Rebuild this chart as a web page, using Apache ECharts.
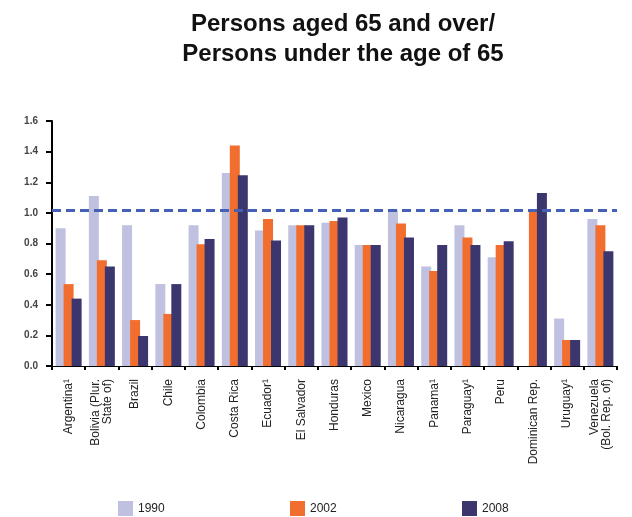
<!DOCTYPE html>
<html>
<head>
<meta charset="utf-8">
<script src="https://cdn.jsdelivr.net/npm/echarts@6/dist/echarts.min.js"></script>
<style>html,body{margin:0;padding:0;background:#fff}#c{width:632px;height:517px}</style>
</head>
<body>
<div id="c"></div>
<script>
var categories = ["Argentina\u00b9", "Bolivia (Plur.\nState of)", "Brazil", "Chile", "Colombia", "Costa Rica", "Ecuador\u00b9", "El Salvador", "Honduras", "Mexico", "Nicaragua", "Panama\u00b9", "Paraguay\u00b9", "Peru", "Dominican Rep.", "Uruguay\u00b9", "Venezuela\n(Bol. Rep. of)"];
var s1990 = [0.90, 1.11, 0.92, 0.535, 0.92, 1.26, 0.885, 0.92, 0.935, 0.79, 1.02, 0.65, 0.92, 0.71, null, 0.31, 0.96];
var s2002 = [0.535, 0.69, 0.30, 0.34, 0.795, 1.44, 0.96, 0.92, 0.947, 0.79, 0.93, 0.62, 0.84, 0.79, 1.02, 0.17, 0.92];
var s2008 = [0.44, 0.65, 0.196, 0.535, 0.83, 1.245, 0.82, 0.92, 0.97, 0.79, 0.84, 0.79, 0.79, 0.815, 1.13, 0.17, 0.75];
var refLine = 1.02;
var seriesNames = ["1990", "2002", "2008"];
var colors = ["#c0c0e0", "#f26e2e", "#3b376e"];

var chart = echarts.init(document.getElementById('c'), null, {renderer: 'canvas'});
var font = "'Liberation Sans', Arial, sans-serif";
function bar(name, data, color, extra) {
  var s = {
    name: name, type: 'bar', data: data, barWidth: 10, barGap: '-20%',
    itemStyle: {color: color}, animation: false
  };
  if (extra) for (var k in extra) s[k] = extra[k];
  return s;
}
var legendText = {fontSize: 12, color: '#222', fontFamily: font};
chart.setOption({
  animation: false,
  textStyle: {fontFamily: font},
  title: {
    text: "Persons aged 65 and over/\nPersons under the age of 65",
    left: 338, top: 4, textAlign: 'center',
    textStyle: {fontFamily: font, fontSize: 24, fontWeight: 'bold', color: '#111', lineHeight: 30}
  },
  legend: [
    {data: [seriesNames[0]], left: 113, top: 496, itemWidth: 15, itemHeight: 15, itemGap: 4, icon: 'rect', textStyle: legendText},
    {data: [seriesNames[1]], left: 285, top: 496, itemWidth: 15, itemHeight: 15, itemGap: 4, icon: 'rect', textStyle: legendText},
    {data: [seriesNames[2]], left: 457, top: 496, itemWidth: 15, itemHeight: 15, itemGap: 4, icon: 'rect', textStyle: legendText}
  ],
  grid: {left: 52, right: 15, top: 121, bottom: 151, containLabel: false},
  xAxis: {
    type: 'category', data: categories,
    axisLine: {lineStyle: {color: '#000', width: 1}},
    axisTick: {show: true, length: 4, lineStyle: {color: '#000', width: 2}},
    axisLabel: {rotate: 90, fontSize: 12, color: '#222', margin: 13, interval: 0, lineHeight: 12, fontFamily: font}
  },
  yAxis: {
    type: 'value', min: 0, max: 1.6, interval: 0.2,
    splitLine: {show: false},
    axisLine: {show: true, lineStyle: {color: '#000', width: 2}},
    axisTick: {show: true, length: 6, lineStyle: {color: '#000', width: 2}},
    axisLabel: {fontSize: 10, fontWeight: 'bold', color: '#444', margin: 14, formatter: function (v) { return v.toFixed(1); }}
  },
  series: [
    bar(seriesNames[0], s1990, colors[0]),
    bar(seriesNames[1], s2002, colors[1]),
    bar(seriesNames[2], s2008, colors[2], {
      markLine: {
        silent: true, symbol: ['none', 'none'], label: {show: false},
        lineStyle: {color: '#4461b5', width: 3, type: [9, 5]},
        data: [{yAxis: refLine}]
      }
    })
  ]
});
</script>
</body>
</html>
